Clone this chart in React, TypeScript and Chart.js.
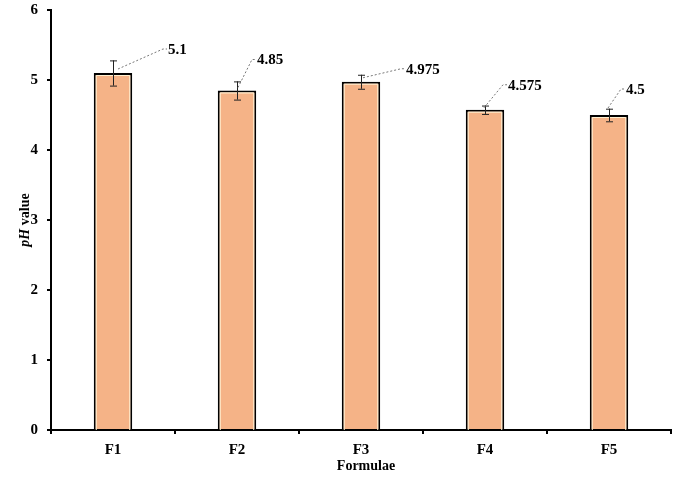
import React, { useEffect, useRef } from "react";
import { Chart, registerables } from "chart.js";

Chart.register(...registerables);

const categories = ["F1", "F2", "F3", "F4", "F5"];
const phValues = [5.1, 4.85, 4.975, 4.575, 4.5];
const phErrors = [0.18, 0.13, 0.1, 0.06, 0.09];
const valueLabels = ["5.1", "4.85", "4.975", "4.575", "4.5"];
const yTicks = [0, 1, 2, 3, 4, 5, 6];

// leader line geometry (pixel offsets from bar top centre): start dx,dy ; end dx,dy
const leaderOffsets = [
  { sx: 5, sy: -4, ex: 50, ey: -24 },
  { sx: 1, sy: -3, ex: 15, ey: -31 },
  { sx: 2, sy: -4, ex: 40, ey: -13 },
  { sx: -1, sy: -2, ex: 18, ey: -25 },
  { sx: -1, sy: -7, ex: 12, ey: -26 },
];

const FONT = "'Liberation Serif', 'Times New Roman', serif";

const overlayPlugin = {
  id: "overlay",
  afterDatasetsDraw(chart: any) {
    const ctx = chart.ctx;
    const meta = chart.getDatasetMeta(0);
    const y = chart.scales.y;
    ctx.save();
    meta.data.forEach((bar: any, i: number) => {
      const x = bar.x;
      const half = bar.width / 2;
      // inner cream line
      ctx.strokeStyle = "#FFF0D0";
      ctx.lineWidth = 1;
      ctx.beginPath();
      ctx.moveTo(x - half + 2.5, y.getPixelForValue(0));
      ctx.lineTo(x - half + 2.5, bar.y + 2.5);
      ctx.lineTo(x + half - 2.5, bar.y + 2.5);
      ctx.lineTo(x + half - 2.5, y.getPixelForValue(0));
      ctx.stroke();
      // error bars
      const top = y.getPixelForValue(phValues[i] + phErrors[i]);
      const bot = y.getPixelForValue(phValues[i] - phErrors[i]);
      ctx.strokeStyle = "#222";
      ctx.lineWidth = 1;
      ctx.beginPath();
      ctx.moveTo(x + 0.5, top);
      ctx.lineTo(x + 0.5, bot);
      ctx.moveTo(x - 3, top + 0.5);
      ctx.lineTo(x + 4, top + 0.5);
      ctx.moveTo(x - 3, bot + 0.5);
      ctx.lineTo(x + 4, bot + 0.5);
      ctx.stroke();
      // leader lines
      const o = leaderOffsets[i];
      const by = bar.y;
      ctx.strokeStyle = "#777";
      ctx.setLineDash([2, 2]);
      ctx.beginPath();
      ctx.moveTo(x + o.sx, by + o.sy);
      ctx.lineTo(x + o.ex, by + o.ey);
      ctx.lineTo(x + o.ex + 4, by + o.ey);
      ctx.stroke();
      ctx.setLineDash([]);
      ctx.fillStyle = "#000";
      ctx.font = `bold 15px ${FONT}`;
      ctx.textAlign = "left";
      ctx.textBaseline = "middle";
      ctx.fillText(valueLabels[i], x + o.ex + 5, by + o.ey + 1);
    });
    // axis titles
    ctx.fillStyle = "#000";
    ctx.textBaseline = "middle";
    ctx.textAlign = "center";
    ctx.font = `bold 14px ${FONT}`;
    ctx.fillText("Formulae", (chart.chartArea.left + chart.chartArea.right) / 2 + 5, 466);
    ctx.save();
    ctx.translate(25, (chart.chartArea.top + chart.chartArea.bottom) / 2);
    ctx.rotate(-Math.PI / 2);
    const p1 = "pH";
    const p2 = " value";
    ctx.font = `italic bold 14px ${FONT}`;
    const w1 = ctx.measureText(p1).width;
    ctx.font = `bold 14px ${FONT}`;
    const w2 = ctx.measureText(p2).width;
    const start = -(w1 + w2) / 2;
    ctx.textAlign = "left";
    ctx.font = `italic bold 14px ${FONT}`;
    ctx.fillText(p1, start, 0);
    ctx.font = `bold 14px ${FONT}`;
    ctx.fillText(p2, start + w1, 0);
    ctx.restore();
    ctx.restore();
  },
};

export default function App() {
  const ref = useRef<HTMLCanvasElement>(null);
  useEffect(() => {
    document.body.style.margin = "0";
    const chart = new Chart(ref.current as HTMLCanvasElement, {
      type: "bar",
      data: {
        labels: categories,
        datasets: [
          {
            data: phValues,
            backgroundColor: "#F5B387",
            borderColor: "#000",
            borderWidth: 2,
            borderSkipped: "bottom",
            barPercentage: 0.31,
            categoryPercentage: 1,
          },
        ],
      },
      options: {
        animation: false,
        responsive: false,
        layout: { padding: { top: 10, right: 7, left: 0, bottom: 0 } },
        plugins: { legend: { display: false }, tooltip: { enabled: false } },
        scales: {
          x: {
            grid: {
              display: true,
              drawOnChartArea: false,
              drawTicks: true,
              tickLength: 4,
              color: "#000",
              lineWidth: 2,
              offset: true,
            },
            border: { display: true, color: "#000", width: 2 },
            ticks: {
              color: "#000",
              font: { family: FONT, size: 15, weight: "bold" },
              padding: 7,
            },
            afterFit: (s: any) => {
              s.height = 52;
              s.paddingLeft = 0;
              s.paddingRight = 0;
            },
          },
          y: {
            min: 0,
            max: 6,
            afterBuildTicks: (s: any) => {
              s.ticks = yTicks.map((v) => ({ value: v }));
            },
            grid: {
              display: true,
              drawOnChartArea: false,
              drawTicks: true,
              tickLength: 4,
              color: "#000",
              lineWidth: 2,
            },
            border: { display: true, color: "#000", width: 2 },
            ticks: {
              color: "#000",
              font: { family: FONT, size: 15, weight: "bold" },
              padding: 9,
            },
            afterFit: (s: any) => {
              s.width = 51;
              s.paddingTop = 0;
              s.paddingBottom = 0;
            },
          },
        },
      },
      plugins: [overlayPlugin],
    });
    return () => chart.destroy();
  }, []);
  return <canvas ref={ref} width={678} height={482} style={{ display: "block" }} />;
}
